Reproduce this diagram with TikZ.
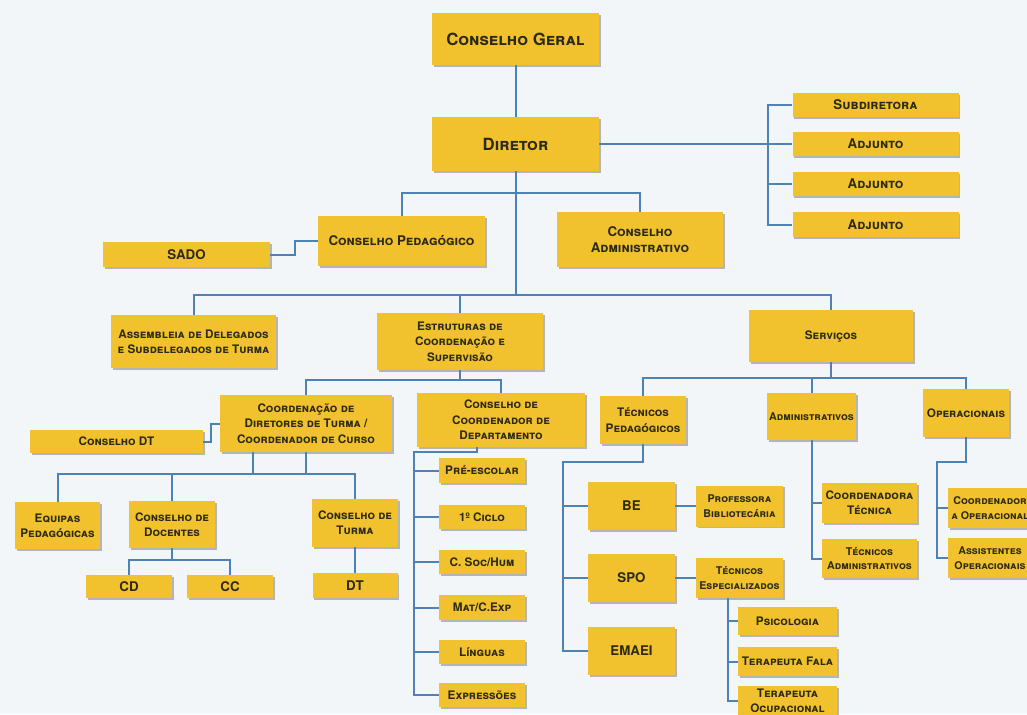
\documentclass[tikz,border=0pt]{standalone}
\usepackage{fontspec}
\setmainfont{TeX Gyre Heros}
\usetikzlibrary{shadows}
\definecolor{bg}{HTML}{F3F6F9}
\definecolor{boxy}{HTML}{F2C12E}
\definecolor{lineb}{HTML}{4C82B6}
\definecolor{txt}{HTML}{2B2A14}
\begin{document}
\begin{tikzpicture}[x=0.75pt,y=-0.75pt,
 box/.style={fill=boxy, text=txt, align=center, inner sep=1pt,
   drop shadow={shadow xshift=1.3pt,shadow yshift=-1.3pt,fill=black!55,opacity=0.5}},
 wh/.style 2 args={minimum width=#1*0.75pt, minimum height=#2*0.75pt},
 big/.style={box,font=\fontsize{12.6}{15}\selectfont\bfseries\scshape},
 med/.style={box,font=\fontsize{10}{12}\selectfont\bfseries\scshape},
 sml/.style={box,font=\fontsize{8.8}{11.5}\selectfont\bfseries\scshape},
 tiny/.style={box,font=\fontsize{8}{11}\selectfont\bfseries\scshape},
 conn/.style={draw=lineb, line width=1.5pt}]
\useasboundingbox (0,0) rectangle (1027,714);
\fill[bg] (0,0) rectangle (1027,714);
\clip (0,0) rectangle (1027,714);

% top
\node[big,wh={167}{52}] (cg) at (515.5,39) {Conselho Geral};
\node[big,wh={167}{54}] (dir) at (515.5,144) {Diretor};
\node[med,wh={166}{24}] (sub) at (875.5,105) {Subdiretora};
\node[med,wh={166}{24}] (adj1) at (875.5,144) {Adjunto};
\node[med,wh={166}{24}] (adj2) at (875.5,184) {Adjunto};
\node[med,wh={166}{25}] (adj3) at (875.5,224.5) {Adjunto};
\node[med,wh={167}{25}] (sado) at (186.5,254.5) {SADO};
\node[med,wh={167}{50}] (cp) at (401.5,241) {Conselho Pedagógico};
\node[med,wh={166}{55}] (ca) at (640,239.5) {Conselho\\Administrativo};

% level 2
\node[sml,wh={165}{53}] (ass) at (193.5,341.5) {Assembleia de Delegados\\e Subdelegados de Turma};
\node[sml,wh={166}{57}] (est) at (460,341.5) {Estruturas de\\Coordenação e\\Supervisão};
\node[sml,wh={164}{52}] (serv) at (831,336) {Serviços};

% level 3
\node[sml,wh={173}{23}] (cdt) at (116.5,441.5) {Conselho DT};
\node[sml,wh={172}{57}] (cod) at (306,423.5) {Coordenação de\\Diretores de Turma /\\Coordenador de Curso};
\node[sml,wh={168}{54}] (ccd) at (501,420) {Conselho de\\Coordenador de\\Departamento};
\node[sml,wh={86}{48}] (tp) at (643,420) {Técnicos\\Pedagógicos};
\node[tiny,wh={89}{47}] (adm) at (811.5,416.5) {Administrativos};
\node[sml,wh={86}{48}] (ope) at (966,413) {Operacionais};

% level 4 left
\node[sml,wh={85}{47}] (eq) at (57.5,525.5) {Equipas\\Pedagógicas};
\node[sml,wh={86}{47}] (cdoc) at (172,524.5) {Conselho de\\Docentes};
\node[sml,wh={86}{48}] (ctur) at (355,523) {Conselho de\\Turma};
\node[med,wh={86}{23}] (cd) at (129,586.5) {CD};
\node[med,wh={86}{23}] (cc) at (230,586.5) {CC};
\node[med,wh={85}{25}] (dt) at (355,585.5) {DT};

% departments
\node[sml,wh={86}{25}] (pre) at (482,470.5) {Pré-escolar};
\node[sml,wh={86}{24}] (cic) at (482,517) {1º Ciclo};
\node[sml,wh={86}{24}] (soc) at (482,562) {C. Soc/Hum};
\node[sml,wh={86}{25}] (mat) at (482,607.5) {Mat/C.Exp};
\node[sml,wh={86}{24}] (lin) at (482,652) {Línguas};
\node[sml,wh={86}{24}] (exp) at (482,695) {Expressões};

% tecnicos pedagogicos
\node[med,wh={87}{48}] (be) at (631.5,506) {BE};
\node[med,wh={87}{48}] (spo) at (631.5,578) {SPO};
\node[med,wh={87}{48}] (ema) at (631.5,651) {EMAEI};
\node[tiny,wh={87}{41}] (pb) at (739.5,506) {Professora\\Bibliotecária};
\node[tiny,wh={87}{40}] (te) at (739.5,578) {Técnicos\\Especializados};
\node[sml,wh={99}{28}] (psi) at (787.5,621) {Psicologia};
\node[sml,wh={99}{29}] (tf) at (787.5,661.5) {Terapeuta Fala};
\node[sml,wh={99}{30}] (to) at (787.5,701) {Terapeuta\\Ocupacional};

% administrativos / operacionais
\node[sml,wh={95}{40}] (ct) at (869.5,503) {Coordenadora\\Técnica};
\node[tiny,wh={95}{39}] (ta) at (869.5,558.5) {Técnicos\\Administrativos};
\node[tiny,wh={84}{40}] (co) at (990,508) {Coordenador\\a Operacional};
\node[tiny,wh={84}{40}] (ao) at (990,558) {Assistentes\\Operacionais};

% helper coordinates
\coordinate (L1) at (0,295);
\coordinate (L2) at (0,380);
\coordinate (L3) at (0,378);
\coordinate (L4) at (0,474);
\coordinate (L5) at (0,560);
\coordinate (v1) at (253,474);
\coordinate (d0) at (477,452);
\coordinate (d1) at (414,452);
\coordinate (t1) at (563,462);
\coordinate (s1) at (728,600);
\coordinate (o1) at (937,462);

% connectors
\draw[conn] (cg) -- (dir);
\draw[conn] (dir.east) -- (adj1.west);
\draw[conn] (sub.west) -- ++(-24,0) |- (adj3.west);
\draw[conn] (adj2.west) -- ++(-24,0);
\draw[conn] (cp.north) -- ++(0,-23) -| (ca.north);
\draw[conn] (sado.east) -- ++(25,0) |- (cp.west);
\draw[conn] (dir.south) -- (dir.south |- L1);
\draw[conn] (ass.north) |- (serv.north |- L1) -- (serv.north);
\draw[conn] (est.north) -- (est.north |- L1);

\draw[conn] (cod.north) |- (ccd.north |- L2) -- (ccd.north);
\draw[conn] (est.south) -- (est.south |- L2);
\draw[conn] (cod.west) -- ++(-9,0) |- (cdt.east);
\draw[conn] (tp.north) |- (ope.north |- L3) -- (ope.north);
\draw[conn] (serv.south) -- (serv.south |- L3);
\draw[conn] (adm.north) -- (adm.north |- L3);

\draw[conn] (eq.north) |- (ctur.north |- L4) -- (ctur.north);
\draw[conn] (cdoc.north) -- (cdoc.north |- L4);
\draw[conn] (v1 |- cod.south) -- (v1);
\draw[conn] (cod.south) -- (cod.south |- L4);
\draw[conn] (cd.north) |- (cc.north |- L5) -- (cc.north);
\draw[conn] (cdoc.south) -- (cdoc.south |- L5);
\draw[conn] (ctur.south) -- (dt.north);

\draw[conn] (d0 |- ccd.south) -- (d0) -- (d1) |- (exp.west);
\foreach \n in {pre,cic,soc,mat,lin} \draw[conn] (\n.west) -- (\n.west -| d1);

\draw[conn] (tp.south) |- (t1) |- (ema.west);
\draw[conn] (be.west) -- (be.west -| t1);
\draw[conn] (spo.west) -- (spo.west -| t1);
\draw[conn] (be.east) -- (pb.west);
\draw[conn] (spo.east) -- (te.west);
\draw[conn] (s1 |- te.south) |- (to.west);
\draw[conn] (psi.west) -- (psi.west -| s1);
\draw[conn] (tf.west) -- (tf.west -| s1);

\draw[conn] (adm.south) |- (ta.west);
\draw[conn] (ct.west) -- (ct.west -| adm.south);
\draw[conn] (ope.south) |- (o1) |- (ao.west);
\draw[conn] (co.west) -- (co.west -| o1);
\end{tikzpicture}
\end{document}
